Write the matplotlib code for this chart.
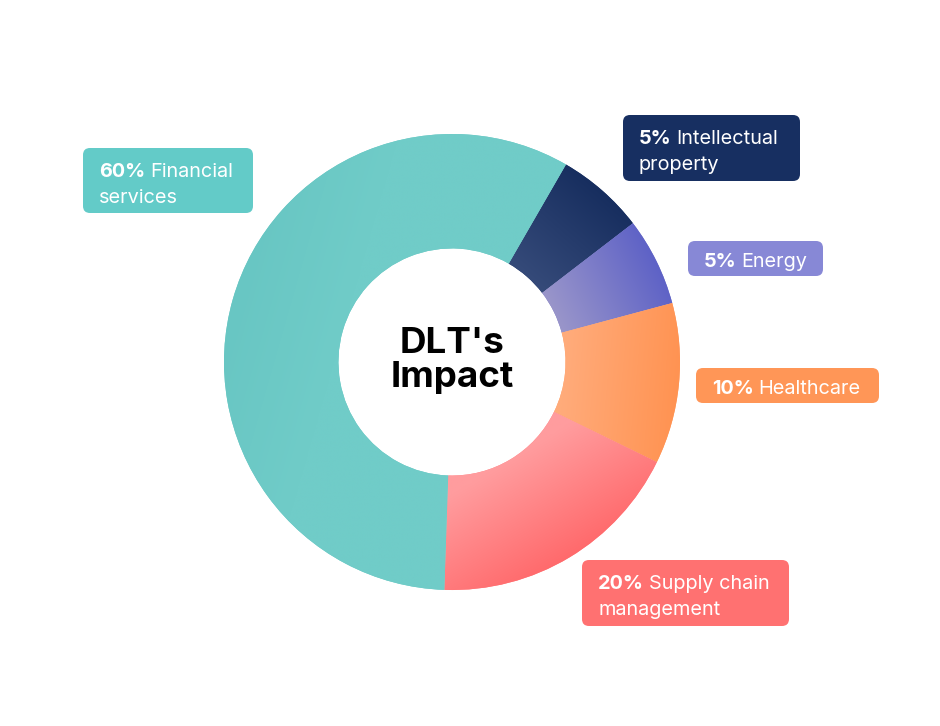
import numpy as np
import matplotlib.pyplot as plt
from matplotlib.patches import FancyBboxPatch
from matplotlib.colors import to_rgb

plt.rcParams['font.family'] = ['Inter', 'DejaVu Sans']

# slices, clockwise starting at the "Intellectual property" slice
label_pct = [5, 5, 10, 20, 60]
# share of the ring each slice actually takes in the picture (%)
drawn_share = [6.25, 6.25, 11.4, 18.3, 57.8]
line1 = ["Intellectual", "Energy", "Healthcare", "Supply chain", "Financial"]
line2 = ["property", "", "", "management", "services"]

light = ["#354a79", "#9995ca", "#ffab7a", "#ff9c9e", "#70ccc8"]
dark = ["#172e5f", "#5e62c6", "#ff9352", "#ff6a6c", "#68c6c3"]
box_colors = ["#172f61", "#8788d6", "#ff9657", "#ff7171", "#63cbc8"]
# label boxes in pixels: left, top, width, height
boxes = [(623, 115, 177, 66), (688, 241, 135, 35), (696, 368, 183, 35),
         (582, 560, 207, 66), (83, 148, 170, 65)]

W, H = 940, 726
fig = plt.figure(figsize=(W / 100, H / 100), dpi=100)

ax = fig.add_axes([224 / W, 1 - 590 / H, 456 / W, 456 / H])
wedges, _ = ax.pie(drawn_share, startangle=60, counterclock=False, radius=1,
                   colors=box_colors, wedgeprops=dict(width=0.502, linewidth=0))

# linear gradient per slice, light on the inside, dark on the outside
xx, yy = np.meshgrid(np.linspace(-1, 1, 500), np.linspace(-1, 1, 500))
for w, lc, dc in zip(wedges, light, dark):
    mid = np.deg2rad((w.theta1 + w.theta2) / 2)
    t = (xx * np.cos(mid) + yy * np.sin(mid) - 0.5) / 0.5
    t = np.clip(t, 0, 1)[..., None]
    img = np.array(to_rgb(lc)) * (1 - t) + np.array(to_rgb(dc)) * t
    w.set_facecolor(np.array(to_rgb(lc)) * 0.5 + np.array(to_rgb(dc)) * 0.5)
    im = ax.imshow(img, extent=(-1, 1, -1, 1), origin='lower',
                   interpolation='bilinear', zorder=3)
    im.set_clip_path(w)

ax.set_xlim(-1, 1)
ax.set_ylim(-1, 1)
ax.set_aspect('equal')
ax.axis('off')

ov = fig.add_axes([0, 0, 1, 1], zorder=5)
ov.set_xlim(0, W)
ov.set_ylim(H, 0)
ov.axis('off')
ov.patch.set_alpha(0)

renderer = fig.canvas.get_renderer()
fs = 14.3
for (x, y, bw, bh), col, pct, l1, l2 in zip(boxes, box_colors, label_pct, line1, line2):
    ov.add_patch(FancyBboxPatch((x, y), bw, bh, boxstyle="round,pad=0,rounding_size=7",
                                facecolor=col, edgecolor='none'))
    base = y + 29 if l2 else y + 26
    tb = ov.text(x + 16, base, f"{pct}%", color='white', fontsize=fs,
                 fontweight='bold', va='baseline', ha='left')
    x_end = tb.get_window_extent(renderer).x1
    ov.text(x_end + 5, base, l1, color='white', fontsize=fs, va='baseline', ha='left')
    if l2:
        ov.text(x + 16, y + 55, l2, color='white', fontsize=fs, va='baseline', ha='left')

ov.text(452, 353, "DLT's", fontsize=26.5, fontweight='bold', ha='center', va='baseline', color='black')
ov.text(452, 387, "Impact", fontsize=26.5, fontweight='bold', ha='center', va='baseline', color='black')

fig.savefig('out.png', dpi=100, facecolor='white')
